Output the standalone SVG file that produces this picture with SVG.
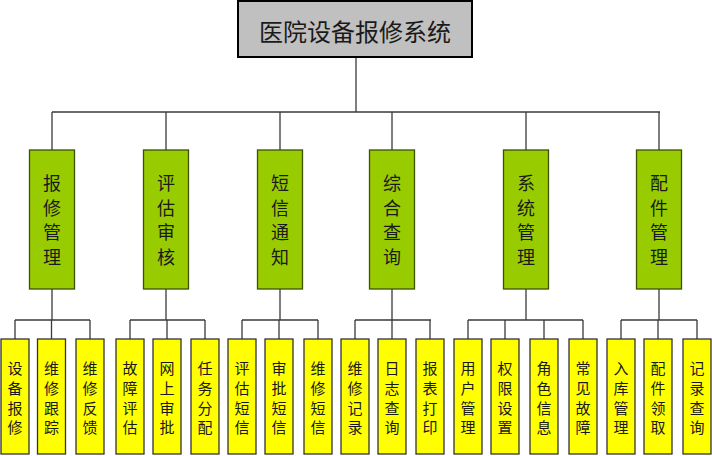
<svg xmlns="http://www.w3.org/2000/svg" width="712" height="456" viewBox="0 0 712 456">
<style>
.ln{stroke:#3a3a3a;stroke-width:1.3;fill:none}
.top{fill:#c0c0c0;stroke:#000;stroke-width:2}
.g{fill:#99cc00;stroke:#3d5200;stroke-width:1.3}
.y{fill:#ffff00;stroke:#333;stroke-width:1.3}
text{font-family:"Noto Sans CJK SC","Noto Sans",sans-serif;fill:#1a1a1a;text-anchor:middle;dominant-baseline:central}
.tt{font-size:24px}
.gt{font-size:18px}
.yt{font-size:15px}
</style>
<rect width="712" height="456" fill="#fff"/>
<g id="connectors">
<path class="ln" d="M356 58V112M52 112H660M52 112V150M166 112V150M280 112V150M392 112V150M526 112V150M659 112V150"/>
<path class="ln" d="M52 289V320M166 289V320M280 289V320M392 289V320M526 289V320M659 289V320"/>
<path class="ln" d="M15 320H90M130 320H205M242 320H318M355 320H431M468 320H583M621 320H697"/>
<path class="ln" d="M15 320V339M51.5 320V339M90 320V339M130 320V339M167 320V339M205 320V339M242 320V339M279 320V339M318 320V339M355 320V339M392 320V339M430 320V339M468 320V339M505 320V339M544 320V339M583 320V339M621 320V339M658 320V339M697 320V339"/>
</g>
<g id="root"><rect class="top" x="238" y="1" width="234" height="56"/><text class="tt" x="355" y="30">医院设备报修系统</text></g>
<g id="m1"><rect class="g" x="29.5" y="150" width="45" height="139"/><text class="gt" x="52" y="182"><tspan x="52">报</tspan><tspan x="52" dy="24.6">修</tspan><tspan x="52" dy="24.6">管</tspan><tspan x="52" dy="24.6">理</tspan></text></g>
<g id="m2"><rect class="g" x="143.5" y="150" width="45" height="139"/><text class="gt" x="166" y="182"><tspan x="166">评</tspan><tspan x="166" dy="24.6">估</tspan><tspan x="166" dy="24.6">审</tspan><tspan x="166" dy="24.6">核</tspan></text></g>
<g id="m3"><rect class="g" x="257.5" y="150" width="45" height="139"/><text class="gt" x="280" y="182"><tspan x="280">短</tspan><tspan x="280" dy="24.6">信</tspan><tspan x="280" dy="24.6">通</tspan><tspan x="280" dy="24.6">知</tspan></text></g>
<g id="m4"><rect class="g" x="369.5" y="150" width="45" height="139"/><text class="gt" x="392" y="182"><tspan x="392">综</tspan><tspan x="392" dy="24.6">合</tspan><tspan x="392" dy="24.6">查</tspan><tspan x="392" dy="24.6">询</tspan></text></g>
<g id="m5"><rect class="g" x="503.5" y="150" width="45" height="139"/><text class="gt" x="526" y="182"><tspan x="526">系</tspan><tspan x="526" dy="24.6">统</tspan><tspan x="526" dy="24.6">管</tspan><tspan x="526" dy="24.6">理</tspan></text></g>
<g id="m6"><rect class="g" x="636.5" y="150" width="45" height="139"/><text class="gt" x="659" y="182"><tspan x="659">配</tspan><tspan x="659" dy="24.6">件</tspan><tspan x="659" dy="24.6">管</tspan><tspan x="659" dy="24.6">理</tspan></text></g>
<g id="s1"><rect class="y" x="1" y="339" width="28" height="115"/><text class="yt" x="15" y="367"><tspan x="15">设</tspan><tspan x="15" dy="19.8">备</tspan><tspan x="15" dy="19.8">报</tspan><tspan x="15" dy="19.8">修</tspan></text></g>
<g id="s2"><rect class="y" x="37.5" y="339" width="28" height="115"/><text class="yt" x="51.5" y="367"><tspan x="51.5">维</tspan><tspan x="51.5" dy="19.8">修</tspan><tspan x="51.5" dy="19.8">跟</tspan><tspan x="51.5" dy="19.8">踪</tspan></text></g>
<g id="s3"><rect class="y" x="76" y="339" width="28" height="115"/><text class="yt" x="90" y="367"><tspan x="90">维</tspan><tspan x="90" dy="19.8">修</tspan><tspan x="90" dy="19.8">反</tspan><tspan x="90" dy="19.8">馈</tspan></text></g>
<g id="s4"><rect class="y" x="116" y="339" width="28" height="115"/><text class="yt" x="130" y="367"><tspan x="130">故</tspan><tspan x="130" dy="19.8">障</tspan><tspan x="130" dy="19.8">评</tspan><tspan x="130" dy="19.8">估</tspan></text></g>
<g id="s5"><rect class="y" x="153" y="339" width="28" height="115"/><text class="yt" x="167" y="367"><tspan x="167">网</tspan><tspan x="167" dy="19.8">上</tspan><tspan x="167" dy="19.8">审</tspan><tspan x="167" dy="19.8">批</tspan></text></g>
<g id="s6"><rect class="y" x="191" y="339" width="28" height="115"/><text class="yt" x="205" y="367"><tspan x="205">任</tspan><tspan x="205" dy="19.8">务</tspan><tspan x="205" dy="19.8">分</tspan><tspan x="205" dy="19.8">配</tspan></text></g>
<g id="s7"><rect class="y" x="228" y="339" width="28" height="115"/><text class="yt" x="242" y="367"><tspan x="242">评</tspan><tspan x="242" dy="19.8">估</tspan><tspan x="242" dy="19.8">短</tspan><tspan x="242" dy="19.8">信</tspan></text></g>
<g id="s8"><rect class="y" x="265" y="339" width="28" height="115"/><text class="yt" x="279" y="367"><tspan x="279">审</tspan><tspan x="279" dy="19.8">批</tspan><tspan x="279" dy="19.8">短</tspan><tspan x="279" dy="19.8">信</tspan></text></g>
<g id="s9"><rect class="y" x="304" y="339" width="28" height="115"/><text class="yt" x="318" y="367"><tspan x="318">维</tspan><tspan x="318" dy="19.8">修</tspan><tspan x="318" dy="19.8">短</tspan><tspan x="318" dy="19.8">信</tspan></text></g>
<g id="s10"><rect class="y" x="341" y="339" width="28" height="115"/><text class="yt" x="355" y="367"><tspan x="355">维</tspan><tspan x="355" dy="19.8">修</tspan><tspan x="355" dy="19.8">记</tspan><tspan x="355" dy="19.8">录</tspan></text></g>
<g id="s11"><rect class="y" x="378" y="339" width="28" height="115"/><text class="yt" x="392" y="367"><tspan x="392">日</tspan><tspan x="392" dy="19.8">志</tspan><tspan x="392" dy="19.8">查</tspan><tspan x="392" dy="19.8">询</tspan></text></g>
<g id="s12"><rect class="y" x="416" y="339" width="28" height="115"/><text class="yt" x="430" y="367"><tspan x="430">报</tspan><tspan x="430" dy="19.8">表</tspan><tspan x="430" dy="19.8">打</tspan><tspan x="430" dy="19.8">印</tspan></text></g>
<g id="s13"><rect class="y" x="454" y="339" width="28" height="115"/><text class="yt" x="468" y="367"><tspan x="468">用</tspan><tspan x="468" dy="19.8">户</tspan><tspan x="468" dy="19.8">管</tspan><tspan x="468" dy="19.8">理</tspan></text></g>
<g id="s14"><rect class="y" x="491" y="339" width="28" height="115"/><text class="yt" x="505" y="367"><tspan x="505">权</tspan><tspan x="505" dy="19.8">限</tspan><tspan x="505" dy="19.8">设</tspan><tspan x="505" dy="19.8">置</tspan></text></g>
<g id="s15"><rect class="y" x="530" y="339" width="28" height="115"/><text class="yt" x="544" y="367"><tspan x="544">角</tspan><tspan x="544" dy="19.8">色</tspan><tspan x="544" dy="19.8">信</tspan><tspan x="544" dy="19.8">息</tspan></text></g>
<g id="s16"><rect class="y" x="569" y="339" width="28" height="115"/><text class="yt" x="583" y="367"><tspan x="583">常</tspan><tspan x="583" dy="19.8">见</tspan><tspan x="583" dy="19.8">故</tspan><tspan x="583" dy="19.8">障</tspan></text></g>
<g id="s17"><rect class="y" x="607" y="339" width="28" height="115"/><text class="yt" x="621" y="367"><tspan x="621">入</tspan><tspan x="621" dy="19.8">库</tspan><tspan x="621" dy="19.8">管</tspan><tspan x="621" dy="19.8">理</tspan></text></g>
<g id="s18"><rect class="y" x="644" y="339" width="28" height="115"/><text class="yt" x="658" y="367"><tspan x="658">配</tspan><tspan x="658" dy="19.8">件</tspan><tspan x="658" dy="19.8">领</tspan><tspan x="658" dy="19.8">取</tspan></text></g>
<g id="s19"><rect class="y" x="683" y="339" width="28" height="115"/><text class="yt" x="697" y="367"><tspan x="697">记</tspan><tspan x="697" dy="19.8">录</tspan><tspan x="697" dy="19.8">查</tspan><tspan x="697" dy="19.8">询</tspan></text></g>
</svg>
